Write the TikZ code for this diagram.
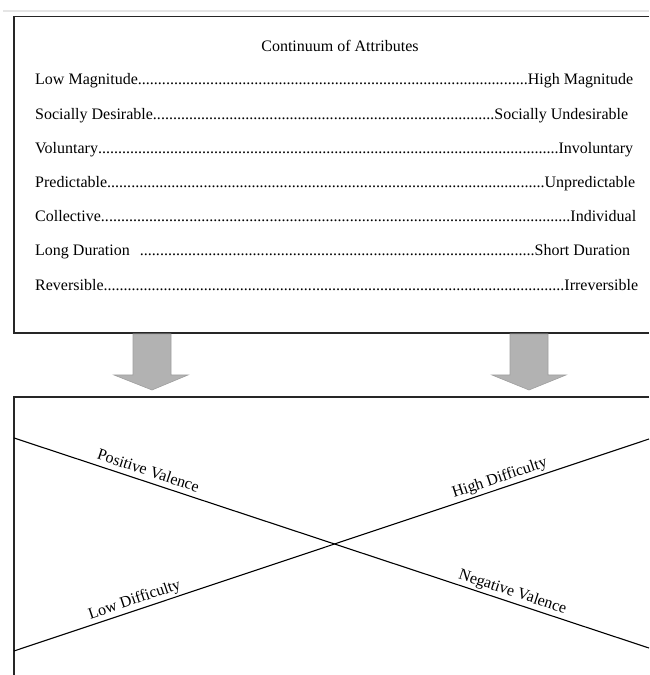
\documentclass[tikz,border=0pt]{standalone}
\usepackage{fontspec}
\setmainfont{Liberation Serif}
\begin{document}
\begin{tikzpicture}[x=1pt,y=1pt,
  boxline/.style={draw=black!85, line width=1.3pt},
  xline/.style={draw=black, line width=1.1pt},
  blockarrow/.style={fill=gray!60, draw=gray!75, line width=0.6pt},
  row/.style={anchor=base west, inner sep=0pt, font=\fontsize{16}{19}\selectfont},
  title/.style={anchor=base, inner sep=0pt, font=\fontsize{16}{19}\selectfont},
  linelabel/.style={sloped, anchor=base, inner sep=0pt, font=\fontsize{16}{19}\selectfont}
]
\useasboundingbox (0,0) rectangle (649,675);
\newcommand{\dotrow}[3]{\makebox[#1][l]{#2\xleaders\hbox{.}\hfill #3}}
% faint scan line
\draw[gray!20, line width=2pt] (3,664) -- (649,664);
% top box (right edge outside the picture)
\coordinate (tTR) at (649,658.5);
\coordinate (tTL) at (14,658.5);
\coordinate (tBL) at (14,342);
\coordinate (tBR) at (649,342);
\draw[boxline] (tTR) -- (tTL) -- (tBL) -- (tBR);
% bottom box
\coordinate (bTR) at (649,278);
\coordinate (bTL) at (14,278);
\coordinate (bBL) at (14,0);
\draw[boxline] (bTR) -- (bTL) -- (bBL);
% title and rows
\node[title] (title) at (340,623) {Continuum of Attributes};
\node[row] (r1) at (35,590)   {\dotrow{598pt}{Low Magnitude}{High Magnitude}};
\node[row] (r2) at (35,555.8) {\dotrow{593pt}{Socially Desirable}{Socially Undesirable}};
\node[row] (r3) at (35,521.6) {\dotrow{598pt}{Voluntary}{Involuntary}};
\node[row] (r4) at (35,487.4) {\dotrow{600pt}{Predictable}{Unpredictable}};
\node[row] (r5) at (35,453.2) {\dotrow{601pt}{Collective}{Individual}};
\node[row] (r6) at (35,419)   {\dotrow{595pt}{Long Duration\hspace{10pt}}{Short Duration}};
\node[row] (r7) at (35,384.8) {\dotrow{603pt}{Reversible}{Irreversible}};
% block arrows
\draw[blockarrow] (133,341) -- (171,341) -- (171,300) -- (188,300) -- (152,285)
  -- (114,300) -- (133,300) -- cycle;
\draw[blockarrow] (510,341) -- (548,341) -- (548,300) -- (566,300) -- (529,285)
  -- (492,300) -- (510,300) -- cycle;
% the X
\coordinate (aL) at (14,237);
\coordinate (aR) at (649,27);
\coordinate (bL) at (14,24);
\coordinate (bR) at (649,236);
\draw[xline] (aL) -- node[linelabel, pos=0.206] (pv) {\raisebox{6pt}{Positive Valence}}
  node[linelabel, pos=0.78] (nv) {\raisebox{6pt}{Negative Valence}} (aR);
\draw[xline] (bL) -- node[linelabel, pos=0.195] (ld) {\raisebox{6pt}{Low Difficulty}}
  node[linelabel, pos=0.77] (hd) {\raisebox{6pt}{High Difficulty}} (bR);
\end{tikzpicture}
\end{document}
